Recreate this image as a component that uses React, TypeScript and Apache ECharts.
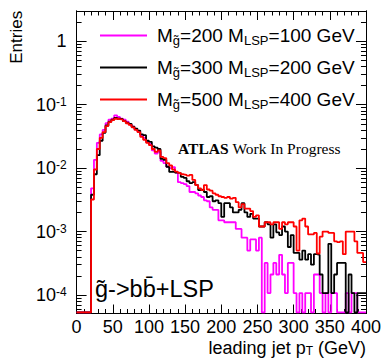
import React, { useEffect, useRef } from "react";
import * as echarts from "echarts";

// ---- axis ranges / ticks ----
const Y_MIN = 5.1e-5;
const Y_MAX = 3;
const X_MIN = 0;
const X_MAX = 400;
const BIN_WIDTH = 4; // GeV
const xTickLabels = [0, 50, 100, 150, 200, 250, 300, 350, 400];
const yMajorTicks = [1e-4, 1e-3, 1e-2, 1e-1, 1];

// ---- legend / series names ----
const seriesNames = [
  "M_g̃=200 M_LSP=100 GeV",
  "M_g̃=300 M_LSP=200 GeV",
  "M_g̃=500 M_LSP=400 GeV",
];
const legendMasses = [
  ["200", "100"],
  ["300", "200"],
  ["500", "400"],
];
const seriesColors = ["#ff00ff", "#000000", "#ff0000"];

// ---- histogram contents (100 bins of 4 GeV, 0-400 GeV) ----
const magenta = [
  0, 0, 0, 0, 0, 0.0048, 0.0135, 0.025, 0.034, 0.04,
  0.051, 0.058, 0.06, 0.068, 0.064, 0.06, 0.058, 0.054, 0.049, 0.045,
  0.041, 0.038, 0.033, 0.03, 0.026, 0.024, 0.019, 0.017, 0.018, 0.013,
  0.012, 0.0105, 0.01, 0.0104, 0.0085, 0.006, 0.0058, 0.0056, 0.0052, 0.0042,
  0.0042, 0.004, 0.0037, 0.0035, 0.0031, 0.003, 0.0024, 0.0022, 0.0022, 0.0015,
  0.0015, 0.0014, 0.0014, 0.0014, 0.0014, 0.0011, 0.0011, 0.0008, 0.0008, 0.0005,
  0.00075, 0.00075, 0.0005, 0.0008, 0, 3.2e-4, 1.07e-4, 2.1e-4, 3.2e-4, 2.1e-4,
  4.3e-4, 2.1e-4, 1.07e-4, 3.2e-4, 3.2e-4, 1.07e-4, 0, 1.07e-4, 0, 1.07e-4,
  1.07e-4, 0, 2.1e-4, 2.1e-4, 1.07e-4, 0, 1.07e-4, 0, 1.07e-4, 1.07e-4,
  0, 0, 0, 1.07e-4, 0, 1.07e-4, 1.07e-4, 0, 0, 0,
];
const black = [
  0, 0, 0, 0, 0, 0.0038, 0.008, 0.016, 0.027, 0.036,
  0.047, 0.054, 0.058, 0.062, 0.06, 0.059, 0.055, 0.052, 0.05, 0.045,
  0.042, 0.039, 0.034, 0.033, 0.027, 0.026, 0.022, 0.021, 0.02, 0.014,
  0.0135, 0.0105, 0.0087, 0.0088, 0.0085, 0.0084, 0.0073, 0.007, 0.0062, 0.0058,
  0.006, 0.0054, 0.0045, 0.0046, 0.0042, 0.0035, 0.0036, 0.003, 0.0031, 0.0028,
  0.0017, 0.0028, 0.0028, 0.0024, 0.002, 0.002, 0.0022, 0.0028, 0.002, 0.0017,
  0.0019, 0.0016, 0.0016, 0.0012, 0.0012, 0.0014, 0.0013, 0.0008, 0.0013, 0.00097,
  0.00088, 0.0012, 0.001, 0.00057, 0.00088, 0.00046, 0.00046, 0.00036, 0.0005, 0.00036,
  0.00044, 0.0003, 0.00044, 0.00043, 2.1e-4, 1.07e-4, 1.07e-4, 6.4e-4, 1.07e-4, 2.1e-4,
  3.2e-4, 3.2e-4, 3.2e-4, 0, 2.1e-4, 1.07e-4, 0, 1.07e-4, 1.07e-4, 1.07e-4,
];
const red = [
  0, 0, 0, 0, 0, 0.0032, 0.0095, 0.02, 0.03, 0.037,
  0.046, 0.053, 0.057, 0.06, 0.059, 0.058, 0.055, 0.051, 0.048, 0.044,
  0.04, 0.037, 0.031, 0.028, 0.025, 0.023, 0.02, 0.018, 0.019, 0.015,
  0.0144, 0.012, 0.011, 0.0095, 0.0088, 0.0084, 0.008, 0.0078, 0.0076, 0.0078,
  0.0065, 0.0054, 0.0048, 0.0045, 0.0054, 0.0046, 0.0044, 0.004, 0.0038, 0.0036,
  0.0035, 0.0034, 0.0035, 0.0033, 0.0034, 0.0029, 0.0024, 0.0027, 0.0023, 0.0023,
  0.0021, 0.0017, 0.0018, 0.0012, 0.0012, 0.0014, 0.0014, 0.0013, 0.0014, 0.0014,
  0.0011, 0.0014, 0.0013, 0.0014, 0.0014, 0.0012, 0.0005, 0.0015, 0.0016, 0.0012,
  0.0009, 0.0009, 0.00095, 0.00045, 0.00083, 0.001, 0.001, 0.00095, 0.00095, 0.0007,
  0.00068, 0.0007, 0.00044, 0.001, 0.001, 0.001, 0.0007, 0.00046, 0.00046, 0.00033,
];
const seriesValues = [magenta, black, red];

const FONT = "'Liberation Sans', Arial, Helvetica, sans-serif";
const SERIF = "'Liberation Serif', 'Times New Roman', Times, serif";

function buildMinorTicks(): number[] {
  const out: number[] = [];
  for (let d = -5; d <= 0; d++) {
    for (let k = 2; k <= 9; k++) {
      const v = k * Math.pow(10, d);
      if (v > Y_MIN && v < Y_MAX) out.push(v);
    }
  }
  return out;
}

function histData(vals: number[]): number[][] {
  const floor = Y_MIN * 1.04;
  const pts = vals.map((v, i) => [X_MIN + i * BIN_WIDTH, v > 0 ? v : floor]);
  const last = vals[vals.length - 1];
  pts.push([X_MIN + vals.length * BIN_WIDTH, last > 0 ? last : floor]);
  return pts;
}

function yLabel(v: number): string {
  const e = Math.round(Math.log10(v));
  if (e === 0) return "{b|1}";
  return `{b|10}{s|${e}}`;
}

export default function App() {
  const ref = useRef<HTMLDivElement>(null);
  useEffect(() => {
    if (!ref.current) return;
    const chart = echarts.init(ref.current, undefined, { renderer: "svg" });
    const minor = buildMinorTicks();
    const labelRich = {
      b: { fontSize: 18, fontFamily: FONT, color: "#000" },
      s: { fontSize: 12, fontFamily: FONT, color: "#000", verticalAlign: "top" },
    };
    const yBase: any = {
      type: "log",
      logBase: 10,
      min: Y_MIN,
      max: Y_MAX,
      splitLine: { show: false },
      axisLine: { show: true, lineStyle: { color: "#000", width: 1 } },
    };
    const xBase: any = {
      type: "value",
      min: X_MIN,
      max: X_MAX,
      interval: 50,
      splitLine: { show: false },
      axisLine: { show: true, onZero: false, lineStyle: { color: "#000", width: 1 } },
      axisTick: { show: true, inside: true, length: 9, lineStyle: { color: "#000" } },
      minorTick: { show: true, splitNumber: 5, length: 4.5, lineStyle: { color: "#000" } },
    };
    const legendRich = {
      m: { fontSize: 19, fontFamily: FONT, color: "#000", lineHeight: 22 },
      s: { fontSize: 13, fontFamily: FONT, color: "#000", verticalAlign: "bottom", lineHeight: 22 },
    };
    chart.setOption({
      animation: false,
      backgroundColor: "#ffffff",
      grid: { left: 62, right: 17, top: 11, bottom: 46.5 },
      title: [
        {
          text: "{b|ATLAS} {n|Work In Progress}",
          left: 178,
          top: 140,
          padding: 0,
          textStyle: {
            fontFamily: SERIF,
            fontSize: 15.5,
            fontWeight: "normal",
            color: "#000",
            rich: {
              b: { fontFamily: SERIF, fontSize: 15.5, fontWeight: "bold", color: "#000" },
              n: { fontFamily: SERIF, fontSize: 15.5, color: "#000" },
            },
          },
        },
        {
          text: "g\u0303->bb\u0304+LSP",
          left: 95,
          top: 277,
          padding: 0,
          textStyle: { fontFamily: FONT, fontSize: 23.5, fontWeight: "normal", color: "#000" },
        },
      ],
      legend: {
        orient: "vertical",
        left: 100,
        top: 26,
        padding: 0,
        itemGap: 11.5,
        itemWidth: 47,
        itemHeight: 2,
        icon: "rect",
        selectedMode: false,
        data: seriesNames,
        formatter: (name: string) => {
          const i = seriesNames.indexOf(name);
          const [g, l] = legendMasses[i];
          return `{m|M}{s|g\u0303}{m|=${g} M}{s|LSP}{m|=${l} GeV}`;
        },
        textStyle: { rich: legendRich, padding: [0, 0, 0, 5] },
      },
      xAxis: [
        {
          ...xBase,
          position: "bottom",
          axisLabel: {
            show: true,
            margin: 4,
            fontSize: 18,
            fontFamily: FONT,
            color: "#000",
            formatter: (v: number) => (xTickLabels.includes(v) ? String(v) : ""),
          },
          name: "leading jet p{sub|T} (GeV)",
          nameLocation: "end",
          nameGap: 0,
          nameTextStyle: {
            fontFamily: FONT,
            fontSize: 18,
            color: "#000",
            align: "right",
            verticalAlign: "top",
            padding: [25, 0, 0, 0],
            rich: {
              sub: { fontFamily: FONT, fontSize: 12, color: "#000", verticalAlign: "bottom" },
            },
          },
        },
        { ...xBase, position: "top", axisLabel: { show: false } },
      ],
      yAxis: [
        {
          ...yBase,
          position: "left",
          axisTick: { show: true, inside: true, length: 10, customValues: yMajorTicks, lineStyle: { color: "#000" } },
          axisLabel: { show: true, customValues: yMajorTicks, margin: 10, formatter: yLabel, rich: labelRich },
          name: "Entries",
          nameLocation: "middle",
          nameGap: 38,
          nameTextStyle: { fontFamily: FONT, fontSize: 17, color: "#000", padding: [0, 0, 0, 250] },
        },
        {
          ...yBase,
          position: "left",
          axisTick: { show: true, inside: true, length: 5, customValues: minor, lineStyle: { color: "#000" } },
          axisLabel: { show: false },
        },
        {
          ...yBase,
          position: "right",
          axisTick: { show: true, inside: true, length: 10, customValues: yMajorTicks, lineStyle: { color: "#000" } },
          axisLabel: { show: false },
        },
        {
          ...yBase,
          position: "right",
          axisTick: { show: true, inside: true, length: 5, customValues: minor, lineStyle: { color: "#000" } },
          axisLabel: { show: false },
        },
      ],
      series: seriesValues.map((vals, i) => ({
        name: seriesNames[i],
        type: "line",
        xAxisIndex: 0,
        yAxisIndex: 0,
        step: "end",
        symbol: "none",
        showSymbol: false,
        clip: true,
        lineStyle: { color: seriesColors[i], width: 1.8 },
        itemStyle: { color: seriesColors[i] },
        data: histData(vals),
        z: 2 + i,
      })),
    });
    return () => chart.dispose();
  }, []);
  return (
    <div
      ref={ref}
      style={{ position: "fixed", left: 0, top: 0, width: 384, height: 360, background: "#fff" }}
    />
  );
}
